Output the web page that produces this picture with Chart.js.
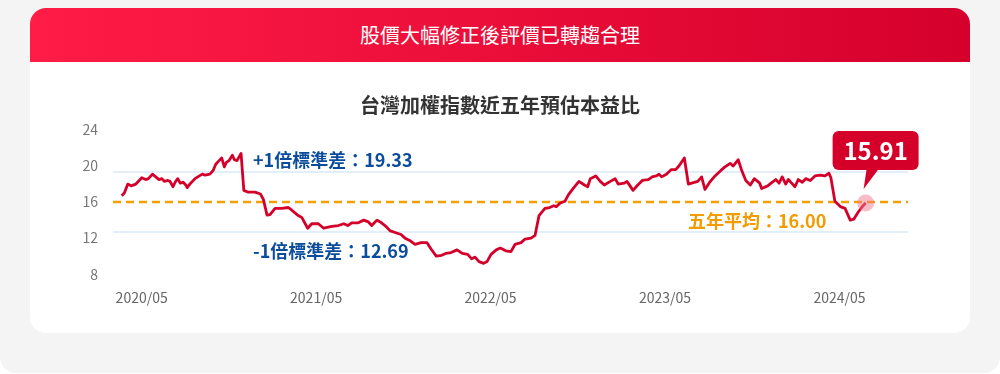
<!DOCTYPE html>
<html lang="zh-Hant">
<head>
<meta charset="utf-8">
<title>台灣加權指數近五年預估本益比</title>
<script src="https://cdn.jsdelivr.net/npm/chart.js@4.4.1/dist/chart.umd.min.js"></script>
<style>
  html, body { margin: 0; padding: 0; background: #fff; }
  body { width: 1000px; height: 374px; overflow: hidden; position: relative; font-family: "Noto Sans CJK TC", "Noto Sans", sans-serif; }
  .sfondo { position: absolute; left: 0; top: 0; width: 1000px; height: 373px; background: #f4f4f4; border-radius: 0 0 16px 16px; }
  .card { position: absolute; left: 30px; top: 8px; width: 940px; height: 325px; background: #fff; border-radius: 16px; overflow: hidden; }
  .testata { height: 54px; line-height: 54px; text-align: center; color: #fff; font-size: 20px; background: linear-gradient(90deg, #ff1c46, #d5002c); }
  .grafico { position: absolute; left: 0; top: 54px; width: 940px; height: 271px; }
</style>
</head>
<body>
<div class="sfondo"></div>
<div class="card">
  <div class="testata">股價大幅修正後評價已轉趨合理</div>
  <div class="grafico"><canvas id="grafico-pe"></canvas></div>
</div>
<script>
// time position of each point, in decimal years
var dates = [
  2020.219,2020.234,2020.254,2020.273,2020.300,2020.334,2020.357,2020.372,2020.395,2020.414,
  2020.433,2020.449,2020.463,2020.483,2020.496,2020.513,2020.525,2020.540,2020.555,2020.571,
  2020.586,2020.594,2020.605,2020.624,2020.639,2020.655,2020.681,2020.697,2020.724,2020.743,
  2020.758,2020.777,2020.792,2020.807,2020.819,2020.834,2020.853,2020.865,2020.880,2020.903,
  2020.919,2020.945,2020.983,2021.014,2021.031,2021.052,2021.069,2021.098,2021.136,2021.174,
  2021.194,2021.231,2021.251,2021.285,2021.308,2021.346,2021.377,2021.423,2021.461,2021.492,
  2021.515,2021.537,2021.575,2021.606,2021.633,2021.652,2021.682,2021.701,2021.728,2021.759,
  2021.790,2021.820,2021.843,2021.873,2021.900,2021.935,2021.969,2021.992,2022.022,2022.053,
  2022.076,2022.107,2022.141,2022.171,2022.202,2022.225,2022.244,2022.267,2022.294,2022.313,
  2022.336,2022.366,2022.389,2022.420,2022.450,2022.473,2022.508,2022.531,2022.565,2022.588,
  2022.611,2022.645,2022.672,2022.695,2022.710,2022.733,2022.760,2022.779,2022.806,2022.840,
  2022.871,2022.890,2022.905,2022.936,2022.962,2022.985,2023.020,2023.047,2023.065,2023.100,
  2023.115,2023.150,2023.177,2023.203,2023.237,2023.260,2023.283,2023.299,2023.314,2023.341,
  2023.368,2023.394,2023.413,2023.444,2023.467,2023.486,2023.521,2023.543,2023.562,2023.589,
  2023.620,2023.658,2023.677,2023.707,2023.723,2023.753,2023.773,2023.796,2023.822,2023.845,
  2023.876,2023.887,2023.922,2023.941,2023.968,2023.987,2024.005,2024.025,2024.040,2024.059,
  2024.078,2024.097,2024.120,2024.140,2024.166,2024.193,2024.223,2024.250,2024.273,2024.284,
  2024.307,2024.338,2024.365,2024.395,2024.415,2024.441,2024.460,2024.483
];

var peValues = [
  16.7,17.0,18.0,17.8,18.0,18.7,18.5,18.6,19.1,18.8,
  18.5,18.6,18.3,18.4,18.3,17.7,18.2,18.6,18.1,18.2,
  17.9,17.6,17.9,18.3,18.6,18.8,19.1,19.0,19.1,19.5,
  20.2,20.6,20.9,19.9,20.4,20.6,21.2,20.7,20.6,21.4,
  17.3,17.1,17.1,16.9,16.3,14.55,14.6,15.3,15.3,15.4,
  15.1,14.5,14.3,13.1,13.6,13.6,13.1,13.3,13.4,13.6,
  13.4,13.7,13.7,14.0,13.8,13.4,14.0,13.8,13.4,12.8,
  12.6,12.4,12.0,11.7,11.3,11.5,11.5,10.8,10.0,10.1,
  10.3,10.4,10.7,10.3,10.2,9.7,9.9,9.4,9.2,9.4,
  10.2,10.7,10.9,10.6,10.5,11.3,11.5,11.9,12.0,12.3,
  14.5,15.3,15.4,15.6,15.5,15.9,16.1,16.8,17.5,18.3,
  17.9,17.7,18.6,18.9,18.3,17.9,18.3,18.6,18.0,18.1,
  18.3,17.3,17.9,18.4,18.5,18.8,18.9,19.1,18.8,19.1,
  19.6,19.6,20.0,20.9,18.0,18.1,18.3,18.8,17.4,18.2,
  18.9,19.6,19.9,20.3,20.0,20.7,19.5,18.4,17.9,18.6,
  18.1,17.5,17.8,18.1,18.5,18.1,18.8,18.0,18.5,18.1,
  17.7,18.5,18.2,18.6,18.4,18.9,19.0,18.9,19.2,18.7,
  16.1,15.5,15.3,14.0,14.1,14.9,15.4,15.91
];

var xTickLabels = ['2020/05', '2021/05', '2022/05', '2023/05', '2024/05'];
var yTickValues = [8, 12, 16, 20, 24];

var upperBand = 19.33;
var meanPE = 16.00;
var lowerBand = 12.69;

var xMin = 2020.169;
var xMax = 2024.726;

var chartTitle = '台灣加權指數近五年預估本益比';

var fontCJK = '"Noto Sans CJK TC", "Noto Sans", sans-serif';
Chart.defaults.font.family = fontCJK;

function labelToYear (label) {
  var parts = label.split('/');
  return parseInt(parts[0], 10) + (parseInt(parts[1], 10) - 1) / 12;
}

function buildPoints () {
  var points = [];
  for (var i = 0; i < dates.length; i++) {
    points.push({ x: dates[i], y: peValues[i] });
  }
  return points;
}

function bandLine (value) {
  return [{ x: xMin, y: value }, { x: xMax, y: value }];
}

var notePlugin = {
  id: 'note',
  afterDatasetsDraw: function (chart) {
    var c = chart.ctx;
    var area = chart.chartArea;
    var y = chart.scales.y;
    c.save();

    // titolo centrato sulla card, non sull'area del grafico
    c.textBaseline = 'middle';
    c.textAlign = 'center';
    c.font = 'bold 20px ' + fontCJK;
    c.fillStyle = '#333';
    c.fillText(chartTitle, chart.width / 2, 43);

    c.textAlign = 'left';
    c.font = 'bold 18px ' + fontCJK;
    c.fillStyle = '#0b4c9c';
    c.fillText('+1倍標準差：' + upperBand.toFixed(2), area.left + 140, y.getPixelForValue(upperBand) - 12);
    c.fillText('-1倍標準差：' + lowerBand.toFixed(2), area.left + 140, y.getPixelForValue(lowerBand) + 19);
    c.fillStyle = '#f29c00';
    c.fillText('五年平均：' + meanPE.toFixed(2), area.left + 575, y.getPixelForValue(meanPE) + 19);

    // ultimo punto + fumetto
    var meta = chart.getDatasetMeta(0);
    var last = meta.data[meta.data.length - 1];
    var px = last.x, py = last.y;

    c.beginPath();
    c.arc(px, py, 8.5, 0, Math.PI * 2);
    c.fillStyle = 'rgba(244, 120, 140, 0.5)';
    c.fill();

    c.fillStyle = '#d4002a';
    c.beginPath();
    c.roundRect(px - 33, py - 72, 86, 39, 6);
    c.fill();
    c.beginPath();
    c.moveTo(px + 1, py - 34);
    c.lineTo(px + 13, py - 34);
    c.lineTo(px - 2, py - 14);
    c.closePath();
    c.fill();

    c.fillStyle = '#fff';
    c.textAlign = 'center';
    c.font = 'bold 24px ' + fontCJK;
    c.fillText(peValues[peValues.length - 1].toFixed(2), px + 10, py - 52);
    c.restore();
  }
};

var ctx = document.getElementById('grafico-pe');
var chart = new Chart(ctx, {
  type: 'line',
  data: {
    datasets: [
      {
        data: buildPoints(),
        borderColor: '#d4002a',
        borderWidth: 2.8,
        borderJoinStyle: 'round',
        pointRadius: 0,
        tension: 0,
        order: 0
      },
      {
        data: bandLine(upperBand),
        borderColor: '#e2effb',
        borderWidth: 2,
        pointRadius: 0,
        order: 3
      },
      {
        data: bandLine(lowerBand),
        borderColor: '#e2effb',
        borderWidth: 2,
        pointRadius: 0,
        order: 3
      },
      {
        data: bandLine(meanPE),
        borderColor: '#f5a000',
        borderWidth: 2.5,
        borderDash: [8, 5],
        pointRadius: 0,
        order: 2
      }
    ]
  },
  options: {
    responsive: true,
    maintainAspectRatio: false,
    animation: false,
    layout: { padding: { top: 68, right: 62, bottom: 20, left: 0 } },
    plugins: {
      legend: { display: false },
      tooltip: { enabled: false },
      title: { display: false }
    },
    scales: {
      x: {
        type: 'linear',
        min: xMin,
        max: xMax,
        grid: { display: false },
        border: { display: false },
        afterBuildTicks: function (scale) {
          scale.ticks = xTickLabels.map(function (l) { return { value: labelToYear(l) }; });
        },
        ticks: {
          autoSkip: false,
          maxRotation: 0,
          padding: 7,
          color: '#666',
          font: { size: 14 },
          callback: function (value, index) { return xTickLabels[index]; }
        }
      },
      y: {
        min: yTickValues[0],
        max: yTickValues[yTickValues.length - 1],
        afterFit: function (scale) { scale.width = 83; },
        afterBuildTicks: function (scale) {
          scale.ticks = yTickValues.map(function (v) { return { value: v }; });
        },
        grid: { display: false },
        border: { display: false },
        ticks: { padding: 7, color: '#777', font: { size: 14 } }
      }
    }
  },
  plugins: [notePlugin]
});
</script>
</body>
</html>
